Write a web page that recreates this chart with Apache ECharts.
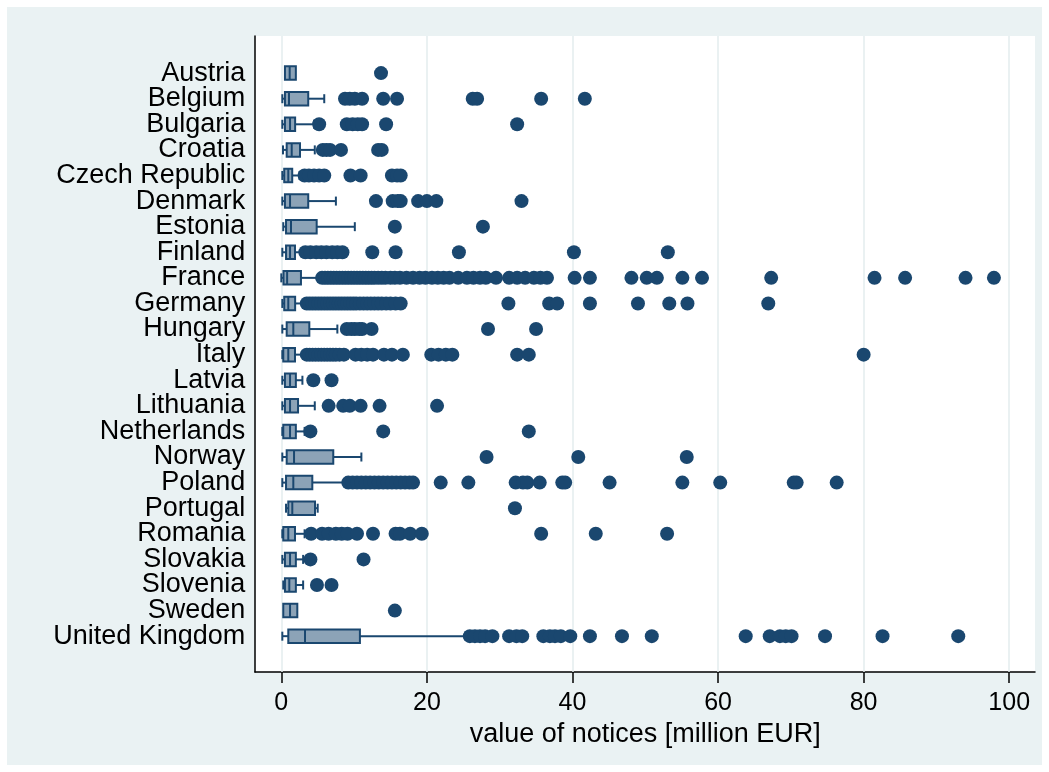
<!DOCTYPE html>
<html>
<head>
<meta charset="utf-8">
<script src="https://cdn.jsdelivr.net/npm/echarts@6/dist/echarts.min.js"></script>
<style>
  html, body { margin: 0; padding: 0; background: #ffffff; }
  #chart { width: 1049px; height: 772px; }
</style>
</head>
<body>
<div id="chart"></div>
<script>
// ---------------- data ----------------
const countries = ["Austria","Belgium","Bulgaria","Croatia","Czech Republic","Denmark","Estonia","Finland","France","Germany","Hungary","Italy","Latvia","Lithuania","Netherlands","Norway","Poland","Portugal","Romania","Slovakia","Slovenia","Sweden","United Kingdom"];
const lowerAdj = [0.5, 0.14, 0.14, 0.23, 0.14, 0.14, 0.27, 0.14, 0.0, 0.14, 0.14, 0.14, 0.14, 0.14, 0.14, 0.14, 0.14, 0.65, 0.14, 0.14, 0.27, 0.27, 0.14];
const q1 =       [0.5, 0.5, 0.5, 0.74, 0.4, 0.5, 0.65, 0.65, 0.3, 0.4, 0.74, 0.27, 0.5, 0.5, 0.27, 0.74, 0.65, 0.96, 0.27, 0.5, 0.5, 0.27, 0.96];
const median =   [1.15, 1.06, 1.2, 1.43, 0.96, 1.2, 1.33, 1.2, 0.8, 0.96, 1.65, 0.96, 1.2, 1.2, 1.2, 1.75, 1.65, 1.51, 0.96, 1.2, 1.1, 1.2, 3.26];
const q3 =       [2.0, 3.7, 1.9, 2.57, 1.5, 3.7, 4.86, 1.88, 2.7, 1.9, 3.85, 1.88, 2.0, 2.3, 2.0, 7.14, 4.26, 4.63, 1.88, 2.0, 2.0, 2.2, 10.8];
const upperAdj = [2.0, 5.9, 4.5, 4.6, 2.5, 7.5, 10.1, 2.8, 5.3, 3.3, 7.7, 3.3, 2.9, 4.6, 3.2, 11.0, 9.0, 5.0, 3.2, 3.0, 3.0, 2.2, 25.3];
const outliers = [
  [13.7],
  [8.75, 9.4, 10.1, 11.1, 14.0, 15.9, 26.3, 26.9, 35.7, 41.7],
  [5.2, 9.0, 9.8, 10.5, 11.1, 14.4, 32.4],
  [5.7, 6.2, 6.7, 8.2, 13.3, 13.8],
  [3.2, 3.8, 4.5, 5.2, 5.9, 9.5, 10.9, 15.2, 15.9, 16.4],
  [13.0, 15.3, 16.0, 16.4, 18.8, 20.0, 21.3, 33.0],
  [15.6, 27.7],
  [3.3, 4.0, 4.8, 5.5, 6.2, 7.0, 7.7, 8.4, 12.5, 15.7, 24.4, 40.2, 53.1],
  [5.6, 6.0, 6.4, 6.8, 7.2, 7.6, 8.0, 8.4, 8.8, 9.2, 9.6, 10.0, 10.4, 10.8, 11.2, 11.6, 12.0, 12.4, 12.8, 13.3, 13.8, 14.3, 15.0, 15.6, 16.3, 17.2, 18.1, 19.0, 19.8, 20.7, 21.5, 22.3, 23.1, 24.3, 25.5, 26.4, 27.3, 28.1, 29.5, 31.3, 32.4, 33.5, 34.7, 35.6, 36.5, 40.3, 42.4, 48.1, 50.2, 51.6, 55.1, 57.8, 67.3, 81.5, 85.7, 94.0, 97.9],
  [3.5, 3.9, 4.3, 4.7, 5.1, 5.5, 5.9, 6.3, 6.7, 7.1, 7.5, 7.9, 8.3, 8.7, 9.1, 9.5, 9.9, 10.3, 10.8, 11.3, 11.8, 12.3, 12.8, 13.3, 13.8, 14.4, 15.0, 15.7, 16.4, 31.2, 36.8, 37.9, 42.4, 49.0, 53.3, 55.8, 66.9],
  [9.0, 9.6, 10.1, 10.7, 11.1, 12.4, 28.4, 35.0],
  [3.5, 3.9, 4.3, 4.7, 5.1, 5.5, 5.9, 6.3, 6.7, 7.1, 7.5, 8.0, 8.6, 10.2, 11.0, 11.8, 12.6, 14.1, 15.2, 16.7, 20.6, 21.6, 22.6, 23.5, 32.4, 34.0, 80.0],
  [4.4, 6.9],
  [6.5, 8.5, 9.4, 10.9, 13.5, 21.4],
  [4.0, 14.0, 34.0],
  [28.2, 40.8, 55.7],
  [9.2, 9.8, 10.4, 11.0, 11.6, 12.2, 12.8, 13.4, 14.0, 14.6, 15.2, 15.8, 16.4, 17.0, 17.6, 18.1, 21.9, 25.7, 32.2, 33.2, 33.8, 35.5, 38.6, 39.0, 45.1, 55.1, 60.3, 70.4, 70.8, 76.3],
  [32.1],
  [4.1, 5.6, 6.5, 7.5, 8.3, 9.1, 10.4, 12.6, 15.7, 16.3, 17.7, 19.3, 35.7, 43.2, 53.0],
  [4.0, 11.3],
  [4.9, 6.9],
  [15.6],
  [25.9, 26.6, 27.3, 28.0, 29.0, 31.3, 32.3, 33.1, 36.0, 36.9, 37.6, 38.4, 39.7, 42.4, 46.8, 50.9, 63.8, 67.1, 68.5, 69.3, 70.1, 74.7, 82.6, 93.0]
];
const xTicks = [0, 20, 40, 60, 80, 100];
const xTitle = "value of notices [million EUR]";

// ------------- derived -------------
const ROW = 20; // y units per category row
const boxData = countries.map((c, i) => [i * ROW, lowerAdj[i], q1[i], median[i], q3[i], upperAdj[i]]);
const outlierData = [];
outliers.forEach((arr, i) => arr.forEach(v => outlierData.push([v, i * ROW])));

const NAVY = '#1A476F';
const FILL = '#8CA3B7';

function renderBox(params, api) {
  const y = api.value(0);
  const pL = api.coord([api.value(1), y]);
  const p1 = api.coord([api.value(2), y]);
  const pm = api.coord([api.value(3), y]);
  const p3 = api.coord([api.value(4), y]);
  const pH = api.coord([api.value(5), y]);
  const cy = p1[1];
  const h = 13.5, ch = 9;
  const ls = { stroke: NAVY, lineWidth: 2, fill: null };
  const kids = [];
  if (p1[0] - pL[0] > 0.5) {
    kids.push({ type: 'line', shape: { x1: pL[0], y1: cy, x2: p1[0], y2: cy }, style: ls });
    kids.push({ type: 'line', shape: { x1: pL[0], y1: cy - ch / 2, x2: pL[0], y2: cy + ch / 2 }, style: ls });
  }
  if (pH[0] - p3[0] > 0.5) {
    kids.push({ type: 'line', shape: { x1: p3[0], y1: cy, x2: pH[0], y2: cy }, style: ls });
    kids.push({ type: 'line', shape: { x1: pH[0], y1: cy - ch / 2, x2: pH[0], y2: cy + ch / 2 }, style: ls });
  }
  kids.push({ type: 'rect', shape: { x: p1[0], y: cy - h / 2, width: p3[0] - p1[0], height: h }, style: { fill: FILL, stroke: NAVY, lineWidth: 2 } });
  kids.push({ type: 'line', shape: { x1: pm[0], y1: cy - h / 2, x2: pm[0], y2: cy + h / 2 }, style: ls });
  return { type: 'group', children: kids };
}

const chart = echarts.init(document.getElementById('chart'), null, { renderer: 'canvas' });
const FONT = 'Liberation Sans, Arial, Helvetica, sans-serif';

chart.setOption({
  animation: false,
  backgroundColor: '#ffffff',
  graphic: [{
    type: 'rect', z: -10, left: 7, top: 7,
    shape: { width: 1035, height: 758 },
    style: { fill: '#EAF2F3' }
  }],
  grid: [
    { left: 255, right: 14, top: 36, bottom: 100, show: true, backgroundColor: '#ffffff', borderWidth: 0, z: 0 },
    { left: 281.3, right: 39.8, top: 36, bottom: 100, z: 1 }
  ],
  xAxis: [
    { gridIndex: 0, type: 'value', min: 0, max: 1, position: 'bottom',
      axisLine: { show: true, onZero: false, lineStyle: { color: '#000', width: 1.5 } },
      axisTick: { show: false }, axisLabel: { show: false }, splitLine: { show: false } },
    { gridIndex: 1, type: 'value', min: 0, max: 100, interval: 20, z: 1, position: 'bottom',
      axisLine: { show: false, onZero: false },
      axisTick: { show: true, length: 11, lineStyle: { color: '#000', width: 1.5 } },
      axisLabel: { show: true, fontSize: 25, color: '#000', fontFamily: FONT, margin: 19,
        formatter: v => (xTicks.indexOf(v) >= 0 ? String(v) : '') },
      splitLine: { show: true, lineStyle: { color: '#E3ECEE', width: 1.5 } },
      name: xTitle, nameLocation: 'middle', nameGap: 46,
      nameTextStyle: { fontSize: 27, color: '#000', fontFamily: FONT } }
  ],
  yAxis: [
    { gridIndex: 0, type: 'value', min: 0, max: 1, position: 'left',
      axisLine: { show: true, onZero: false, lineStyle: { color: '#000', width: 1.5 } },
      axisTick: { show: false }, axisLabel: { show: false }, splitLine: { show: false } },
    { gridIndex: 1, type: 'value', inverse: true, min: -29, max: 468, interval: 1, position: 'left',
      axisLine: { show: false, onZero: false }, axisTick: { show: false }, splitLine: { show: false },
      axisLabel: { show: true, interval: 0, fontSize: 27, color: '#000', fontFamily: FONT, margin: 36,
        formatter: v => {
          const r = Math.round(v);
          if (Math.abs(v - r) > 1e-6 || r % ROW !== 0) return '';
          const idx = r / ROW;
          return (idx >= 0 && idx < countries.length) ? countries[idx] : '';
        } } }
  ],
  series: [
    { type: 'custom', xAxisIndex: 1, yAxisIndex: 1, renderItem: renderBox, data: boxData,
      encode: { x: [1, 2, 3, 4, 5], y: 0 }, clip: false, z: 2, silent: true },
    { type: 'scatter', xAxisIndex: 1, yAxisIndex: 1, data: outlierData, symbol: 'circle', symbolSize: 14,
      itemStyle: { color: NAVY, opacity: 1 }, clip: false, z: 3, silent: true }
  ]
});
</script>
</body>
</html>
